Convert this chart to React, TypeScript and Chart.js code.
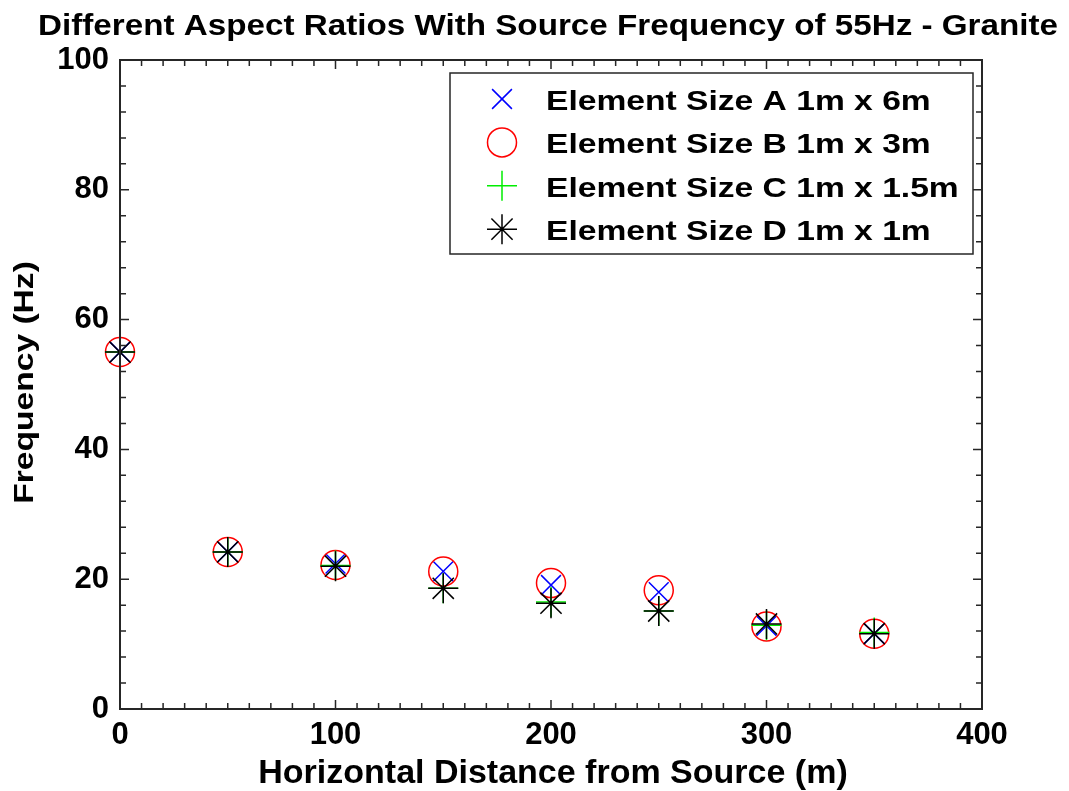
import React, { useEffect, useRef } from "react";
import { Chart, registerables } from "chart.js";
import { drawPoint } from "chart.js/helpers";

Chart.register(...registerables);

// Horizontal distance from the source (m)
const distances = [0, 50, 100, 150, 200, 250, 300, 350];

// Recorded frequency (Hz) for each element aspect ratio
const sizeA = [55, 24.2, 22.4, 21.2, 19.1, 18.0, 12.8, 11.6];
const sizeB = [55, 24.2, 22.2, 21.2, 19.4, 18.3, 12.7, 11.6];
const sizeC = [55, 24.2, 22.1, 18.6, 16.5, 15.1, 12.9, 11.8];
const sizeD = [55, 24.2, 22.0, 18.6, 16.3, 15.1, 13.1, 11.6];

const seriesLabels = [
  "Element Size A 1m x 6m",
  "Element Size B 1m x 3m",
  "Element Size C 1m x 1.5m",
  "Element Size D 1m x 1m",
];

const xTickValues = [0, 100, 200, 300, 400];
const yTickValues = [0, 20, 40, 60, 80, 100];

const chartTitle = "Different Aspect Ratios With Source Frequency of 55Hz - Granite";
const xAxisTitle = "Horizontal Distance from Source (m)";
const yAxisTitle = "Frequency (Hz)";

const FONT = '"Liberation Sans", Arial, Helvetica, sans-serif';

const markerStyles = [
  { pointStyle: "crossRot", radius: 14, color: "#0000ff" },
  { pointStyle: "circle", radius: 14.5, color: "#ff0000" },
  { pointStyle: "cross", radius: 15, color: "#00ee00" },
  { pointStyle: "star", radius: 15, color: "#000000" },
];

function stretchedText(
  ctx: CanvasRenderingContext2D,
  text: string,
  x: number,
  y: number,
  sx: number,
  align: CanvasTextAlign,
  rotation = 0
) {
  ctx.save();
  ctx.translate(x, y);
  if (rotation) ctx.rotate(rotation);
  ctx.scale(sx, 1);
  ctx.textAlign = align;
  ctx.textBaseline = "alphabetic";
  ctx.fillText(text, 0, 0);
  ctx.restore();
}

// Boxed axes with inward major/minor ticks, titles and the legend panel
const framePlugin = {
  id: "frame",
  afterDraw(chart: any) {
    const { ctx, chartArea: a, scales } = chart;
    const xs = scales.x;
    const ys = scales.y;
    ctx.save();

    ctx.strokeStyle = "#262626";
    ctx.lineWidth = 1.5;
    ctx.beginPath();
    for (let v = xs.min; v <= xs.max; v += 10) {
      const px = xs.getPixelForValue(v);
      const len = v % 100 === 0 ? 9 : 6;
      ctx.moveTo(px, a.bottom);
      ctx.lineTo(px, a.bottom - len);
      ctx.moveTo(px, a.top);
      ctx.lineTo(px, a.top + len);
    }
    for (let v = ys.min; v <= ys.max; v += 4) {
      const py = ys.getPixelForValue(v);
      const len = v % 20 === 0 ? 9 : 6;
      ctx.moveTo(a.left, py);
      ctx.lineTo(a.left + len, py);
      ctx.moveTo(a.right, py);
      ctx.lineTo(a.right - len, py);
    }
    ctx.stroke();

    ctx.lineWidth = 2;
    ctx.strokeRect(a.left, a.top, a.right - a.left, a.bottom - a.top);

    // Titles
    ctx.fillStyle = "#000";
    ctx.font = `bold 29px ${FONT}`;
    stretchedText(ctx, chartTitle, 548, 35, 1.145, "center");
    ctx.font = `bold 34px ${FONT}`;
    stretchedText(ctx, xAxisTitle, (a.left + a.right) / 2 + 2, 783, 1, "center");
    ctx.font = `bold 28px ${FONT}`;
    stretchedText(ctx, yAxisTitle, 33, (a.top + a.bottom) / 2 - 2, 1.2, "center", -Math.PI / 2);

    // Legend panel
    const lx = 450, ly = 73, lw = 523, lh = 181;
    ctx.fillStyle = "#fff";
    ctx.fillRect(lx, ly, lw, lh);
    ctx.strokeStyle = "#262626";
    ctx.lineWidth = 1.5;
    ctx.strokeRect(lx, ly, lw, lh);

    ctx.font = `bold 28px ${FONT}`;
    seriesLabels.forEach((label, i) => {
      const cy = 100 + i * 43.4;
      const m = markerStyles[i];
      ctx.save();
      ctx.strokeStyle = m.color;
      ctx.fillStyle = "rgba(0,0,0,0)";
      ctx.lineWidth = 1.5;
      drawPoint(ctx, { pointStyle: m.pointStyle, rotation: 0, radius: m.radius, borderWidth: 1.5 }, 502, cy - 1);
      ctx.restore();
      ctx.fillStyle = "#000";
      stretchedText(ctx, label, 546, cy + 10, 1.2, "left");
    });

    ctx.restore();
  },
};

export default function App() {
  const canvasRef = useRef<HTMLCanvasElement | null>(null);

  useEffect(() => {
    const canvas = canvasRef.current;
    if (!canvas) return;

    const series = [sizeA, sizeB, sizeC, sizeD];
    const datasets = series.map((values, i) => ({
      label: seriesLabels[i],
      data: distances.map((d, j) => ({ x: d, y: values[j] })),
      showLine: false,
      clip: false,
      pointStyle: markerStyles[i].pointStyle,
      pointRadius: markerStyles[i].radius,
      pointHoverRadius: markerStyles[i].radius,
      pointBorderWidth: 1.5,
      borderColor: markerStyles[i].color,
      backgroundColor: "rgba(0,0,0,0)",
      order: series.length - i,
    }));

    const tickFont = { family: FONT, size: 31, weight: "bold" as const };

    const chart = new Chart(canvas, {
      type: "scatter",
      data: { datasets: datasets as any },
      options: {
        animation: false,
        responsive: false,
        events: [],
        layout: { padding: { left: 0, right: 87, top: 60, bottom: 0 } },
        plugins: {
          legend: { display: false },
          tooltip: { enabled: false },
          title: { display: false },
        },
        scales: {
          x: {
            type: "linear",
            min: 0,
            max: 400,
            afterBuildTicks: (s: any) => {
              s.ticks = xTickValues.map((v) => ({ value: v }));
            },
            afterFit: (s: any) => {
              s.height = 82;
            },
            ticks: { font: tickFont, color: "#000", padding: 8, maxRotation: 0, autoSkip: false },
            grid: { display: false, drawTicks: false },
            border: { display: false },
          },
          y: {
            type: "linear",
            min: 0,
            max: 100,
            afterBuildTicks: (s: any) => {
              s.ticks = yTickValues.map((v) => ({ value: v }));
            },
            afterFit: (s: any) => {
              s.width = 120;
            },
            ticks: { font: tickFont, color: "#000", padding: 11, autoSkip: false },
            grid: { display: false, drawTicks: false },
            border: { display: false },
          },
        },
      },
      plugins: [framePlugin],
    });

    return () => chart.destroy();
  }, []);

  return (
    <div
      style={{
        position: "fixed",
        left: 0,
        top: 0,
        width: 1069,
        height: 791,
        background: "#fff",
      }}
    >
      <canvas ref={canvasRef} width={1069} height={791} style={{ display: "block" }} />
    </div>
  );
}
